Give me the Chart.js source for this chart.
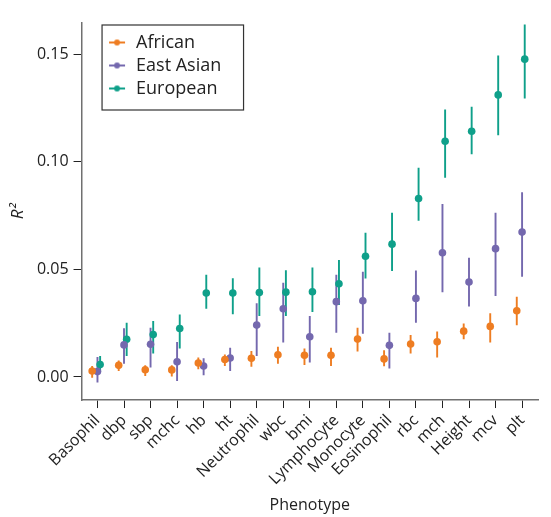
<!DOCTYPE html>
<html>
<head>
<meta charset="utf-8">
<script src="https://cdn.jsdelivr.net/npm/chart.js@4/dist/chart.umd.min.js"></script>
<style>
html,body{margin:0;padding:0;background:#fff;}
#wrap{width:551px;height:517px;}
</style>
</head>
<body>
<div id="wrap"><canvas id="r2Chart"></canvas></div>
<script>
const phenotypes = ["Basophil","dbp","sbp","mchc","hb","ht","Neutrophil","wbc","bmi","Lymphocyte","Monocyte","Eosinophil","rbc","mch","Height","mcv","plt"];

const african   = [0.0028,0.0054,0.0034,0.0033,0.0065,0.0081,0.0087,0.0103,0.0101,0.0101,0.0176,0.0084,0.0153,0.0164,0.0213,0.0235,0.0308];
const africanLo = [-0.0003,0.0028,0.0005,0.0000,0.0036,0.0051,0.0048,0.0062,0.0056,0.0051,0.0118,0.0050,0.0109,0.0090,0.0175,0.0160,0.0240];
const africanHi = [0.0051,0.0077,0.0054,0.0054,0.0090,0.0105,0.0121,0.0141,0.0132,0.0136,0.0229,0.0124,0.0195,0.0211,0.0248,0.0296,0.0373];

const eastAsian   = [0.0025,0.0149,0.0152,0.0071,0.0051,0.0088,0.0241,0.0317,0.0187,0.0350,0.0354,0.0147,0.0365,0.0577,0.0441,0.0596,0.0673];
const eastAsianLo = [-0.0026,0.0062,0.0044,-0.0019,0.0008,0.0028,0.0097,0.0160,0.0067,0.0206,0.0201,0.0040,0.0252,0.0394,0.0327,0.0376,0.0466];
const eastAsianHi = [0.0093,0.0226,0.0229,0.0162,0.0087,0.0136,0.0342,0.0438,0.0283,0.0475,0.0489,0.0206,0.0495,0.0803,0.0554,0.0763,0.0858];

const european   = [0.0058,0.0175,0.0197,0.0225,0.0390,0.0390,0.0392,0.0394,0.0396,0.0433,0.0561,0.0617,0.0829,0.1095,0.1141,0.1310,0.1476];
const europeanLo = [0.0023,0.0097,0.0109,0.0132,0.0317,0.0291,0.0283,0.0283,0.0302,0.0334,0.0457,0.0492,0.0726,0.0925,0.1035,0.1123,0.1293];
const europeanHi = [0.0097,0.0252,0.0260,0.0290,0.0475,0.0459,0.0508,0.0496,0.0508,0.0543,0.0670,0.0763,0.0972,0.1242,0.1255,0.1493,0.1637];

const yTicks = [0, 0.05, 0.10, 0.15];

const groups = [
  {label:"African",    mid:african,   lo:africanLo,   hi:africanHi,   color:"#ee7d22", shift:-0.2},
  {label:"East Asian", mid:eastAsian, lo:eastAsianLo, hi:eastAsianHi, color:"#7468ae", shift:0},
  {label:"European",   mid:european,  lo:europeanLo,  hi:europeanHi,  color:"#0fa08a", shift:0.1}
];

// little "line with dot" key like the ggplot pointrange legend
function keyImage(color){
  const c = document.createElement("canvas");
  c.width = 18; c.height = 8;
  const g = c.getContext("2d");
  g.strokeStyle = color; g.lineWidth = 2;
  g.beginPath(); g.moveTo(1,4); g.lineTo(17,4); g.stroke();
  g.fillStyle = color;
  g.beginPath(); g.arc(9,4,3,0,Math.PI*2); g.fill();
  return c;
}

const datasets = [];
groups.forEach((grp) => {
  datasets.push({
    type:"scatter",
    label:grp.label,
    data:phenotypes.map((p,i) => ({x:i+grp.shift, y:grp.mid[i]})),
    backgroundColor:grp.color,
    borderColor:grp.color,
    pointRadius:3.8,
    pointHoverRadius:3.8,
    pointBorderWidth:0,
    order:1
  });
  datasets.push({
    type:"bar",
    label:grp.label+" interval",
    data:phenotypes.map((p,i) => ({x:i+grp.shift, y:[grp.lo[i], grp.hi[i]]})),
    backgroundColor:grp.color,
    borderWidth:0,
    grouped:false,
    maxBarThickness:2,
    order:2
  });
});

Chart.defaults.font.family = "'Open Sans', sans-serif";
Chart.defaults.color = "#222";

const legendBox = {
  id:"legendBox",
  afterLayout(chart){
    const lg = chart.legend, ca = chart.chartArea;
    const w = lg.width, h = lg.height;
    lg.left = ca.left + 20.5; lg.right = lg.left + w;
    lg.top = ca.top + 5.5; lg.bottom = lg.top + h;
  },
  afterDraw(chart){
    const ca = chart.chartArea, c = chart.ctx;
    c.save();
    c.strokeStyle = "#333"; c.lineWidth = 1.2;
    c.strokeRect(ca.left + 20.5, ca.top + 2, 141.5, 85);
    c.restore();
  }
};

new Chart(document.getElementById("r2Chart"), {
  type:"scatter",
  data:{datasets:datasets},
  plugins:[legendBox],
  options:{
    responsive:true,
    maintainAspectRatio:false,
    animation:false,
    layout:{padding:{left:3.5, top:23, right:13, bottom:0}},
    plugins:{
      tooltip:{enabled:false},
      legend:{
        position:"chartArea",
        align:"start",
        labels:{
          font:{size:18},
          color:"#222",
          usePointStyle:true,
          pointStyleWidth:20,
          padding:5,
          filter:(item, data) => data.datasets[item.datasetIndex].type !== "bar",
          generateLabels:(chart) => {
            const items = Chart.defaults.plugins.legend.labels.generateLabels(chart);
            items.forEach((it) => { it.pointStyle = keyImage(chart.data.datasets[it.datasetIndex].backgroundColor); });
            return items;
          }
        }
      }
    },
    scales:{
      x:{
        type:"linear",
        offset:false,
        min:-0.6,
        max:16.6,
        afterBuildTicks:(axis) => { axis.ticks = phenotypes.map((p,i) => ({value:i})); },
        grid:{drawOnChartArea:false, drawTicks:true, tickLength:8, color:"#222", offset:false},
        border:{display:true, color:"#707070", width:1.5},
        ticks:{
          autoSkip:false,
          maxRotation:45,
          minRotation:45,
          padding:3,
          font:{size:16},
          color:"#222",
          callback:(v) => phenotypes[v]
        },
        title:{display:true, text:"Phenotype", font:{size:16}, color:"#222", padding:{top:4, bottom:2}}
      },
      y:{
        min:-0.0107,
        max:0.1644,
        afterBuildTicks:(axis) => { axis.ticks = yTicks.map((v) => ({value:v})); },
        grid:{drawOnChartArea:false, drawTicks:true, tickLength:8, color:"#222"},
        border:{display:true, color:"#707070", width:1.5},
        ticks:{
          padding:5,
          font:{size:16},
          color:"#222",
          callback:(v) => v.toFixed(2)
        },
        title:{display:true, text:"R²", font:{size:17, style:"italic"}, color:"#222", padding:{top:4, bottom:4}}
      }
    }
  }
});
</script>
</body>
</html>
